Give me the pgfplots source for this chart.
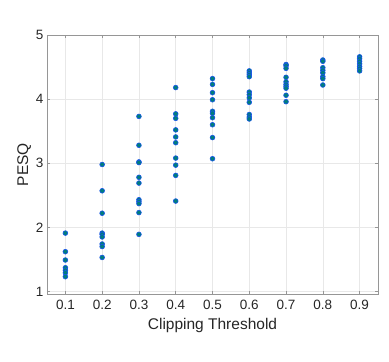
\documentclass[border=0pt]{standalone}
\usepackage{pgfplots}
\pgfplotsset{compat=1.18}
\usepackage{fontspec}
\setmainfont{Liberation Sans}
\definecolor{edgeBlue}{RGB}{25,85,235}
\definecolor{faceTeal}{RGB}{0,125,125}
\definecolor{axGray}{RGB}{150,150,150}
\definecolor{txtGray}{RGB}{38,38,38}

\begin{document}
\begin{tikzpicture}
\begin{axis}[scale only axis,width=331pt,height=259pt,at={(0,0)},anchor=south west,
  xmin=0.05,xmax=0.95,ymin=0.96,ymax=5,
  xtick={0.1,0.2,...,0.9},ytick={1,2,3,4,5},
  xticklabels={0.1,0.2,0.3,0.4,0.5,0.6,0.7,0.8,0.9},
  /pgf/number format/assume math mode=true,
  tick label style={font=\fontsize{13.5}{14}\selectfont,text=txtGray},
  xticklabel style={yshift=-3pt},
  label style={font=\fontsize{15.5}{17}\selectfont,text=txtGray},
  xlabel={Clipping Threshold},ylabel={PESQ},
  xlabel style={yshift=-1pt},
  ylabel style={yshift=-2pt},
  grid=major,grid style={gray!18,line width=0.5pt},
  axis line style={axGray,line width=0.6pt},
  tick style={axGray,line width=0.5pt},tick align=inside,major tick length=3pt,
  xtick pos=both,ytick pos=both]
\addplot[only marks,mark=*,mark size=2.4pt,mark options={draw=edgeBlue,fill=faceTeal,line width=0.6pt}] coordinates {
(0.1,1.91) (0.1,1.62) (0.1,1.49) (0.1,1.37) (0.1,1.33) (0.1,1.29) (0.1,1.23)
(0.2,2.98) (0.2,2.57) (0.2,2.22) (0.2,1.91) (0.2,1.89) (0.2,1.85) (0.2,1.74) (0.2,1.70) (0.2,1.53)
(0.3,3.73) (0.3,3.28) (0.3,3.02) (0.3,3.01) (0.3,2.78) (0.3,2.69) (0.3,2.43) (0.3,2.40) (0.3,2.37) (0.3,2.23) (0.3,1.89)
(0.4,4.18) (0.4,3.77) (0.4,3.70) (0.4,3.52) (0.4,3.41) (0.4,3.32) (0.4,3.08) (0.4,2.97) (0.4,2.81) (0.4,2.41)
(0.5,4.32) (0.5,4.23) (0.5,4.10) (0.5,3.99) (0.5,3.81) (0.5,3.78) (0.5,3.71) (0.5,3.60) (0.5,3.40) (0.5,3.07)
(0.6,4.44) (0.6,4.41) (0.6,4.38) (0.6,4.35) (0.6,4.11) (0.6,4.07) (0.6,4.02) (0.6,3.95) (0.6,3.76) (0.6,3.72) (0.6,3.69)
(0.7,4.54) (0.7,4.52) (0.7,4.48) (0.7,4.34) (0.7,4.27) (0.7,4.23) (0.7,4.20) (0.7,4.17) (0.7,4.06) (0.7,3.96)
(0.8,4.61) (0.8,4.59) (0.8,4.49) (0.8,4.45) (0.8,4.41) (0.8,4.35) (0.8,4.32) (0.8,4.22)
(0.9,4.66) (0.9,4.63) (0.9,4.59) (0.9,4.55) (0.9,4.51) (0.9,4.48) (0.9,4.44)
};
\end{axis}
\path[use as bounding box] (-47pt,-68pt) rectangle (342pt,294pt);
\end{tikzpicture}
\end{document}
